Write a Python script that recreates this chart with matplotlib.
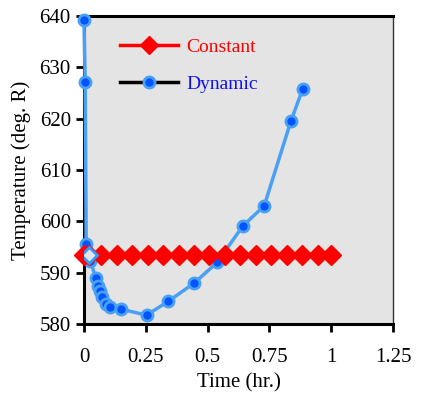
import matplotlib.pyplot as plt

plt.rcParams["font.family"] = ["Liberation Serif", "DejaVu Serif"]

# constant temperature case
const_time = [0.0, 0.02, 0.07, 0.1325, 0.195, 0.2575, 0.32, 0.3825, 0.445, 0.5075,
              0.57, 0.6325, 0.695, 0.7575, 0.82, 0.8825, 0.945, 1.0]
const_temp = [593.4] * len(const_time)

# dynamic temperature case
dyn_time = [0.0, 0.005, 0.009, 0.026, 0.048, 0.057, 0.064, 0.074, 0.091, 0.107,
            0.149, 0.253, 0.341, 0.447, 0.539, 0.643, 0.729, 0.837, 0.885]
dyn_temp = [639.2, 627.2, 595.5, 592.3, 588.9, 587.4, 586.5, 585.2, 583.9, 583.2,
            582.9, 581.7, 584.4, 588.0, 592.0, 599.1, 603.0, 619.5, 625.8]

x_ticks = [0, 0.25, 0.5, 0.75, 1, 1.25]
x_labels = ["0", "0.25", "0.5", "0.75", "1", "1.25"]
y_ticks = [580, 590, 600, 610, 620, 630, 640]

fig = plt.figure(figsize=(4.24, 3.96), dpi=100)
ax = fig.add_axes([0.198, 0.182, 0.729, 0.778])
ax.set_facecolor("#e4e4e4")

ax.plot(dyn_time, dyn_temp, color="#4aa0f2", linewidth=2.5, marker="o",
        markersize=8, markerfacecolor="#0055ff", markeredgecolor="#4aa0f2",
        markeredgewidth=2, zorder=4, clip_on=False)
ax.plot(const_time, const_temp, color="red", linewidth=2, marker="D",
        markersize=10, markerfacecolor="red", markeredgecolor="red", zorder=5,
        clip_on=False)
# highlighted hollow point
ax.plot(const_time[1], const_temp[1], linestyle="none", marker="D", markersize=8,
        markerfacecolor="#e4e4e4", markeredgecolor="#3399ff", markeredgewidth=2, zorder=6)

# legend drawn as in the original (black line for Dynamic)
h1, = ax.plot([], [], color="red", linewidth=2.5, marker="D", markersize=9,
              markerfacecolor="red", markeredgecolor="red")
h2, = ax.plot([], [], color="black", linewidth=2.5, marker="o", markersize=8,
              markerfacecolor="#0055ff", markeredgecolor="#4aa0f2", markeredgewidth=2)
leg = ax.legend([h1, h2], ["Constant", "Dynamic"], loc="upper left", frameon=False,
                fontsize=14, handlelength=3.0, handletextpad=0.4, labelspacing=1.0,
                bbox_to_anchor=(0.06, 0.985))
leg.get_texts()[0].set_color("red")
leg.get_texts()[1].set_color("#1010ee")

ax.set_xlim(0, 1.25)
ax.set_ylim(580, 640)
ax.set_xticks(x_ticks)
ax.set_xticklabels(x_labels)
ax.set_yticks(y_ticks)
ax.tick_params(axis="both", labelsize=15, direction="out", length=6, width=2, color="black")
ax.tick_params(axis="x", pad=11)

for side in ["left", "bottom", "top"]:
    ax.spines[side].set_linewidth(2.2)
    ax.spines[side].set_color("black")
ax.spines["right"].set_linewidth(1)
ax.spines["right"].set_color("#333333")

ax.set_xlabel("Time (hr.)", fontsize=15, labelpad=5)
ax.set_ylabel("Temperature (deg. R)", fontsize=15, labelpad=6)

plt.savefig("out.png", dpi=100)
print("done")
